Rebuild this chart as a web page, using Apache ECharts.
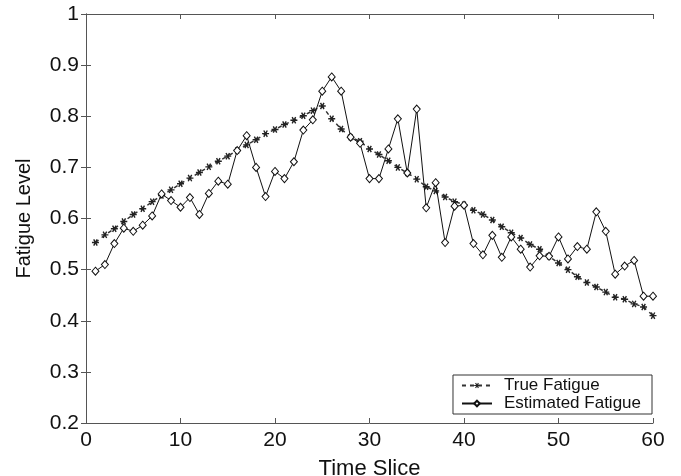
<!DOCTYPE html>
<html>
<head>
<meta charset="utf-8">
<script src="https://cdn.jsdelivr.net/npm/echarts@6/dist/echarts.min.js"></script>
<style>html,body{margin:0;padding:0;background:#fff}#c{width:681px;height:476px}</style>
</head>
<body>
<div id="c"></div>
<script>
const timeSlices = Array.from({length: 60}, (_, i) => i + 1);
const trueFatigue = [
  0.553, 0.568, 0.580, 0.594, 0.608, 0.619, 0.633, 0.645, 0.656, 0.668,
  0.679, 0.690, 0.701, 0.712, 0.722, 0.733, 0.744, 0.754, 0.766, 0.774,
  0.784, 0.792, 0.801, 0.811, 0.820, 0.795, 0.775, 0.759, 0.751, 0.736,
  0.725, 0.713, 0.700, 0.689, 0.677, 0.662, 0.654, 0.642, 0.633, 0.627,
  0.616, 0.608, 0.597, 0.584, 0.572, 0.562, 0.549, 0.540, 0.526, 0.513,
  0.500, 0.486, 0.475, 0.466, 0.456, 0.446, 0.442, 0.433, 0.427, 0.410
];
const estimatedFatigue = [
  0.497, 0.510, 0.551, 0.581, 0.575, 0.587, 0.605, 0.648, 0.635, 0.622,
  0.641, 0.608, 0.649, 0.673, 0.667, 0.733, 0.762, 0.700, 0.643, 0.692,
  0.678, 0.711, 0.773, 0.793, 0.849, 0.877, 0.849, 0.759, 0.747, 0.678,
  0.678, 0.736, 0.795, 0.689, 0.814, 0.621, 0.670, 0.553, 0.624, 0.626,
  0.551, 0.529, 0.567, 0.524, 0.564, 0.540, 0.505, 0.527, 0.526, 0.564,
  0.521, 0.545, 0.540, 0.613, 0.575, 0.491, 0.507, 0.518, 0.448, 0.448
];
const seriesNames = ['True Fatigue', 'Estimated Fatigue'];
const xTitle = 'Time Slice';
const yTitle = 'Fatigue Level';

const FONT = '"Liberation Sans", Arial, Helvetica, sans-serif';
const asterisk = 'path://M-5,-1L5,-1L5,1L-5,1Z M-1.634,-4.83L3.366,3.83L1.634,4.83L-3.366,-3.83Z M-3.366,3.83L1.634,-4.83L3.366,-3.83L-1.634,4.83Z';
const axisColor = '#555';

const chart = echarts.init(document.getElementById('c'), null, {renderer: 'canvas'});
const xCommon = {
  type: 'value', min: 0, max: 60, interval: 10,
  axisLine: {show: true, lineStyle: {color: axisColor, width: 1}},
  axisTick: {show: true, inside: true, length: 5, lineStyle: {color: axisColor}},
  splitLine: {show: false}
};
const yCommon = {
  type: 'value', min: 0.2, max: 1, interval: 0.1,
  axisLine: {show: true, lineStyle: {color: axisColor, width: 1}},
  axisTick: {show: true, inside: true, length: 5, lineStyle: {color: axisColor}},
  splitLine: {show: false}
};
chart.setOption({
  animation: false,
  backgroundColor: '#fff',
  grid: {left: 86, right: 28, top: 14, bottom: 53, show: false, containLabel: false, outerBoundsMode: 'none'},
  textStyle: {fontFamily: FONT},
  xAxis: [
    Object.assign({}, xCommon, {
      position: 'bottom',
      name: xTitle, nameLocation: 'middle', nameGap: 35,
      nameTextStyle: {fontSize: 22, color: '#111', fontFamily: FONT},
      axisLabel: {fontSize: 21, color: '#111', margin: 7, fontFamily: FONT}
    }),
    Object.assign({}, xCommon, {position: 'top', axisLabel: {show: false}})
  ],
  yAxis: [
    Object.assign({}, yCommon, {
      position: 'left',
      name: yTitle, nameLocation: 'middle', nameGap: 52,
      nameTextStyle: {fontSize: 20, color: '#111', fontFamily: FONT},
      axisLabel: {fontSize: 21, color: '#111', margin: 7, fontFamily: FONT,
        formatter: v => String(+v.toFixed(1))}
    }),
    Object.assign({}, yCommon, {position: 'right', axisLabel: {show: false}})
  ],
  legend: {
    orient: 'vertical', right: 29, bottom: 62,
    data: seriesNames,
    itemWidth: 30, itemHeight: 7, itemGap: 1,
    padding: [2, 11, 2, 8],
    borderColor: '#333', borderWidth: 1, borderRadius: 0,
    backgroundColor: '#fff',
    textStyle: {fontSize: 17, color: '#111', fontFamily: FONT, padding: [0, 0, 0, 7]}
  },
  series: [
    {
      name: seriesNames[0], type: 'line',
      data: timeSlices.map((t, i) => [t, trueFatigue[i]]),
      symbol: asterisk, symbolSize: 7,
      showAllSymbol: true,
      lineStyle: {color: '#333', width: 1.5, type: [4, 4]},
      itemStyle: {color: '#222', borderWidth: 0},
      z: 2
    },
    {
      name: seriesNames[1], type: 'line',
      data: timeSlices.map((t, i) => [t, estimatedFatigue[i]]),
      symbol: 'diamond', symbolSize: [7, 8],
      showAllSymbol: true,
      lineStyle: {color: '#111', width: 1},
      itemStyle: {color: '#fff', borderColor: '#111', borderWidth: 1},
      z: 3
    }
  ]
});
</script>
</body>
</html>
